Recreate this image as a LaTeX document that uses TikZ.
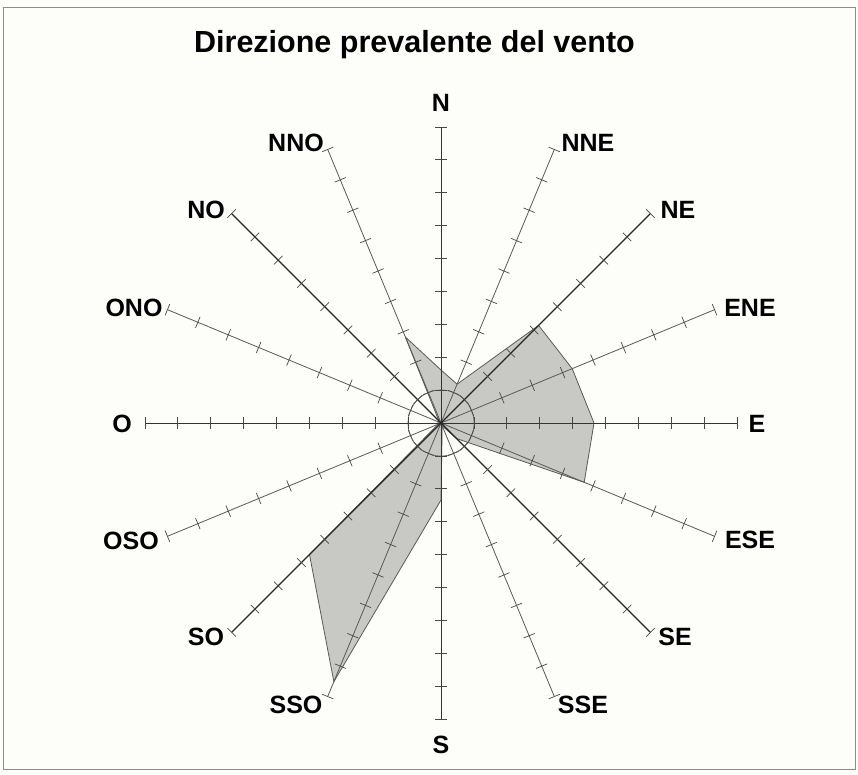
\documentclass[tikz,border=0pt]{standalone}
\usepackage{fontspec}
\setmainfont{Liberation Sans}
\usetikzlibrary{calc}
\definecolor{paper}{RGB}{253,253,249}
\definecolor{lobe}{RGB}{200,200,196}
\tikzset{
  mainaxis/.style={line width=0.9pt, black!80},
  diagaxis/.style={line width=1.15pt, black!85},
  minoraxis/.style={line width=0.8pt, black!65},
  tickmark/.style={line width=0.7pt, black!72},
  lobeshape/.style={fill=lobe, draw=black!65, line width=0.8pt, line join=round},
  dirlabel/.style={font=\bfseries\fontsize{25}{30}\selectfont, inner sep=0pt},
  titlelabel/.style={font=\bfseries\fontsize{30.5}{36}\selectfont, inner sep=0pt, anchor=base},
  frame/.style={draw=black!45, line width=1pt},
}
\begin{document}
\begin{tikzpicture}[x=1pt,y=1pt]
\useasboundingbox (0,0) rectangle (858,775);
\fill[paper] (0,0) rectangle (858,775);
\draw[frame] (3,5) rectangle (855,767);
\node[titlelabel] (title) at (414.5,722) {Direzione prevalente del vento};
\coordinate (C) at (441,352);
% wind lobe
\draw[lobeshape] ($(C)+(90:53)$) -- ($(C)+(67.5:42)$) -- ($(C)+(45:138)$) -- ($(C)+(22.5:142)$)
  -- ($(C)+(0:153)$) -- ($(C)+(-22.5:155)$) -- ($(C)+(-45:22)$) -- ($(C)+(-67.5:3)$)
  -- ($(C)+(-90:77)$) -- ($(C)+(-112.5:280)$) -- ($(C)+(-135:186)$) -- ($(C)+(-157.5:3)$)
  -- ($(C)+(180:3)$) -- ($(C)+(157.5:3)$) -- ($(C)+(135:3)$) -- ($(C)+(112.5:93)$) -- cycle;
% central circle
\draw[black!60, line width=0.7pt] (C) circle (33);
% axes ends
\foreach \nm/\ang in {N/90,NNE/67.5,NE/45,ENE/22.5,E/0,ESE/-22.5,SE/-45,SSE/-67.5,S/-90,SSO/-112.5,SO/-135,OSO/-157.5,O/180,ONO/157.5,NO/135,NNO/112.5}
  \coordinate (e\nm) at ($(C)+(\ang:296)$);
% minor axes
\foreach \nm/\ang in {NNE/67.5,ENE/22.5,ESE/-22.5,SSE/-67.5,SSO/-112.5,OSO/-157.5,ONO/157.5,NNO/112.5}{
  \draw[minoraxis] (C) -- (e\nm);
  \foreach \k in {1,...,9}
    \draw[tickmark] ($(C)+(\ang:\k*32.9)$) ++(\ang+90:6) -- ++(\ang-90:12);
}
% main axes
\foreach \nm/\ang in {N/90,E/0,S/-90,O/180}{
  \draw[mainaxis] (C) -- (e\nm);
  \foreach \k in {1,...,9}
    \draw[tickmark] ($(C)+(\ang:\k*32.9)$) ++(\ang+90:6) -- ++(\ang-90:12);
}
% diagonal axes
\foreach \nm/\ang in {NE/45,SE/-45,SO/-135,NO/135}{
  \draw[diagaxis] (C) -- (e\nm);
  \foreach \k in {1,...,9}
    \draw[tickmark] ($(C)+(\ang:\k*32.9)$) ++(\ang+90:6) -- ++(\ang-90:12);
}
% labels
\node[dirlabel] (lN) at (441,672) {N};
\node[dirlabel] (lNNE) at (588,632) {NNE};
\node[dirlabel] (lNE) at (678,565) {NE};
\node[dirlabel] (lENE) at (750,467) {ENE};
\node[dirlabel] (lE) at (757,351) {E};
\node[dirlabel] (lESE) at (750,235) {ESE};
\node[dirlabel] (lSE) at (675,138) {SE};
\node[dirlabel] (lSSE) at (583,70) {SSE};
\node[dirlabel] (lS) at (441,30) {S};
\node[dirlabel] (lSSO) at (296,70) {SSO};
\node[dirlabel] (lSO) at (206,138) {SO};
\node[dirlabel] (lOSO) at (131,234) {OSO};
\node[dirlabel] (lO) at (122,351) {O};
\node[dirlabel] (lONO) at (134,467) {ONO};
\node[dirlabel] (lNO) at (206,565) {NO};
\node[dirlabel] (lNNO) at (296,632) {NNO};
\end{tikzpicture}
\end{document}
